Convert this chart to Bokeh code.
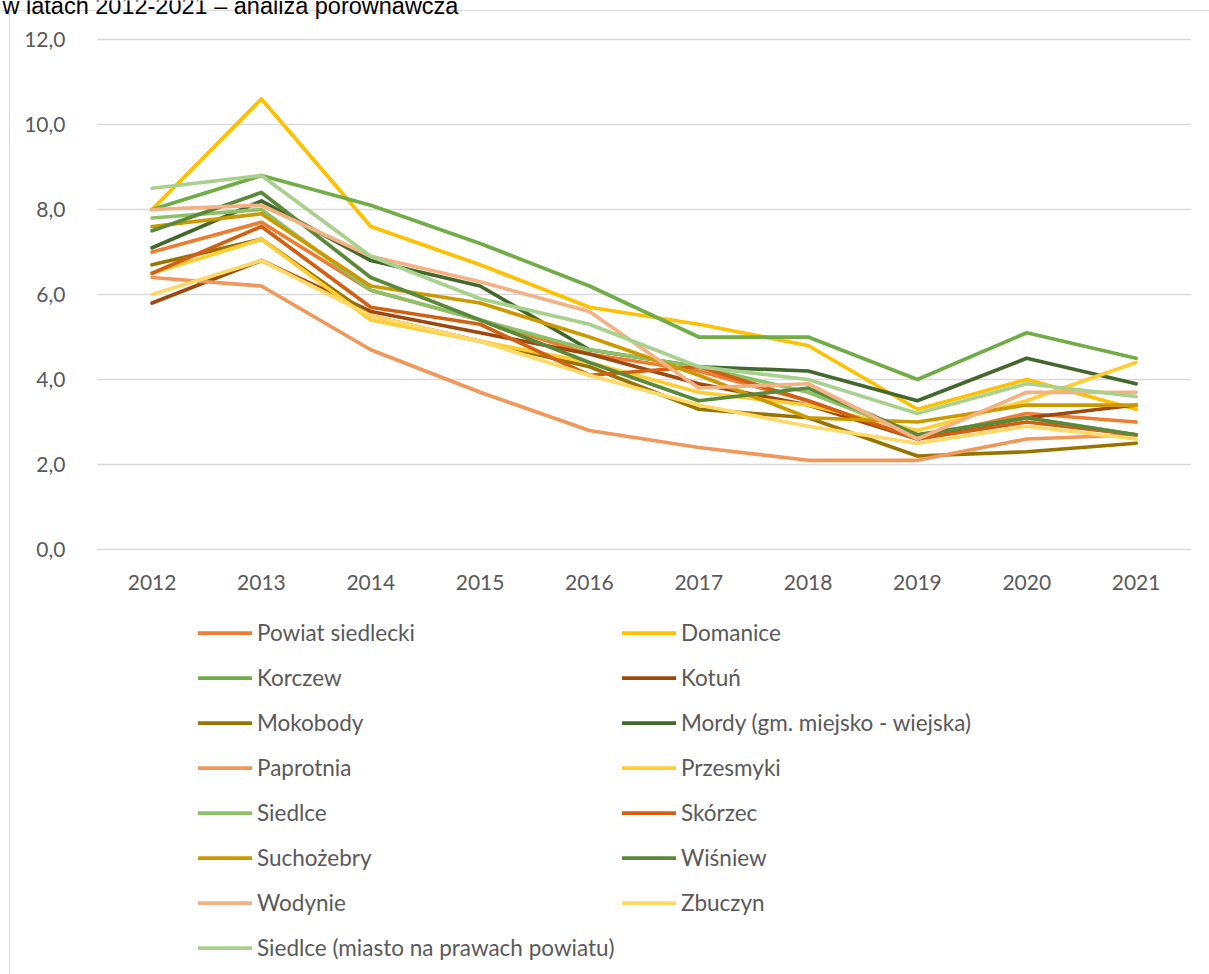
from bokeh.plotting import figure
from bokeh.models import Range1d, FixedTicker, Legend, LegendItem, Label, Span
from bokeh.embed import file_html
from bokeh.resources import INLINE

years = [2012, 2013, 2014, 2015, 2016, 2017, 2018, 2019, 2020, 2021]

powiat_siedlecki = [7.0, 7.7, 6.1, 5.4, 4.6, 4.2, 3.5, 2.6, 3.2, 3.0]
domanice = [8.0, 10.6, 7.6, 6.7, 5.7, 5.3, 4.8, 3.3, 4.0, 3.3]
korczew = [8.0, 8.8, 8.1, 7.2, 6.2, 5.0, 5.0, 4.0, 5.1, 4.5]
kotun = [5.8, 6.8, 5.6, 5.1, 4.6, 3.9, 3.4, 2.6, 3.1, 3.4]
mokobody = [6.7, 7.3, 5.5, 4.9, 4.3, 3.3, 3.1, 2.2, 2.3, 2.5]
mordy = [7.1, 8.2, 6.8, 6.2, 4.7, 4.3, 4.2, 3.5, 4.5, 3.9]
paprotnia = [6.4, 6.2, 4.7, 3.7, 2.8, 2.4, 2.1, 2.1, 2.6, 2.7]
przesmyki = [6.5, 7.3, 5.4, 4.9, 4.4, 3.7, 3.4, 2.8, 3.5, 4.4]
siedlce = [7.8, 8.0, 6.1, 5.4, 4.7, 4.3, 3.7, 2.7, 3.1, 2.7]
skorzec = [6.5, 7.6, 5.7, 5.3, 4.1, 4.3, 3.5, 2.6, 3.0, 2.7]
suchozebry = [7.6, 7.9, 6.2, 5.8, 5.0, 4.1, 3.1, 3.0, 3.4, 3.4]
wisniew = [7.5, 8.4, 6.4, 5.4, 4.4, 3.5, 3.8, 2.7, 3.1, 2.7]
wodynie = [8.0, 8.1, 6.9, 6.3, 5.6, 3.8, 3.9, 2.6, 3.7, 3.7]
zbuczyn = [6.0, 6.8, 5.5, 4.9, 4.1, 3.4, 2.9, 2.5, 2.9, 2.6]
siedlce_miasto = [8.5, 8.8, 6.9, 5.9, 5.3, 4.3, 4.0, 3.2, 3.9, 3.6]

series_names = [
    "Powiat siedlecki", "Domanice", "Korczew", "Kotuń", "Mokobody",
    "Mordy (gm. miejsko - wiejska)", "Paprotnia", "Przesmyki", "Siedlce",
    "Skórzec", "Suchożebry", "Wiśniew", "Wodynie", "Zbuczyn",
    "Siedlce (miasto na prawach powiatu)",
]
series_values = [
    powiat_siedlecki, domanice, korczew, kotun, mokobody, mordy, paprotnia,
    przesmyki, siedlce, skorzec, suchozebry, wisniew, wodynie, zbuczyn,
    siedlce_miasto,
]
series_colors = [
    "#ED7D31", "#FFC000", "#70AD47", "#9E480E", "#997300", "#43682B",
    "#F1975A", "#FFCD33", "#8CC168", "#D26012", "#CC9A00", "#5A8A39",
    "#F4B183", "#FFD966", "#A9D18E",
]

y_ticks = [0, 2, 4, 6, 8, 10, 12]
y_tick_labels = ["0,0", "2,0", "4,0", "6,0", "8,0", "10,0", "12,0"]

title_text = "w latach 2012-2021 – analiza porównawcza"

FONT = "Lato"
TXT = "#595959"

W, H = 1209, 974
PX_PER_YEAR = 109.33
PX_PER_UNIT = 42.5
X_LEFT_PX = 151.6      # pixel position of first year
Y_ZERO_PX = 549.0      # pixel position (from top) of value 0

x_start = years[0] - X_LEFT_PX / PX_PER_YEAR
x_end = x_start + W / PX_PER_YEAR
y_start = -(H - Y_ZERO_PX) / PX_PER_UNIT
y_end = y_start + H / PX_PER_UNIT

p = figure(
    width=W, height=H,
    x_range=Range1d(x_start, x_end), y_range=Range1d(y_start, y_end),
    output_backend="svg", toolbar_location=None,
    min_border=0, outline_line_color=None,
)

p.xgrid.grid_line_color = None
p.ygrid.grid_line_color = None

# horizontal gridlines across the category area
band_left = years[0] - 0.5
band_right = years[-1] + 0.5
p.segment(x0=band_left, x1=band_right, y0=y_ticks, y1=y_ticks,
          line_color="#D9D9D9", line_width=1.3)

p.yaxis.fixed_location = band_left
p.yaxis.ticker = FixedTicker(ticks=y_ticks)
p.yaxis.major_label_overrides = {t: l for t, l in zip(y_ticks, y_tick_labels)}
p.yaxis.axis_line_color = None
p.yaxis.major_tick_line_color = None
p.yaxis.minor_tick_line_color = None
p.yaxis.major_tick_out = 0
p.yaxis.major_tick_in = 0
p.yaxis.major_label_standoff = 32
p.yaxis.major_label_text_font = FONT
p.yaxis.major_label_text_font_size = "21px"
p.yaxis.major_label_text_color = TXT

p.xaxis.fixed_location = 0
p.xaxis.ticker = FixedTicker(ticks=years)
p.xaxis.major_label_overrides = {y: str(y) for y in years}
p.xaxis.axis_line_color = None
p.xaxis.major_tick_line_color = None
p.xaxis.minor_tick_line_color = None
p.xaxis.major_tick_out = 0
p.xaxis.major_tick_in = 0
p.xaxis.major_label_standoff = 25
p.xaxis.major_label_text_font = FONT
p.xaxis.major_label_text_font_size = "21px"
p.xaxis.major_label_text_color = TXT

items = []
for name, vals, color in zip(series_names, series_values, series_colors):
    r = p.line(years, vals, line_color=color, line_width=3.75,
               line_join="round", line_cap="round")
    items.append(LegendItem(label=name, renderers=[r]))

legend = Legend(
    items=items, location=(198, 4), orientation="horizontal", ncols=2,
    glyph_width=54, glyph_height=45, label_height=45, label_width=365,
    label_standoff=5, spacing=0, padding=0, margin=0,
    border_line_color=None, background_fill_alpha=0,
    label_text_font=FONT, label_text_font_size="22.5px", label_text_color=TXT,
)
p.add_layout(legend)

border_left = Span(location=9, dimension="height", location_units="screen",
                   line_color="#D9D9D9", line_width=1)
border_top = Span(location=H - 10, dimension="width", location_units="screen",
                  line_color="#D9D9D9", line_width=1)
p.add_layout(border_left)
p.add_layout(border_top)

title = Label(
    x=2, y=H - 5, x_units="screen", y_units="screen", text=title_text,
    text_font="Liberation Sans", text_font_size="23.5px", text_color="black",
    text_baseline="alphabetic",
)
p.add_layout(title)

open("out.html", "w").write(file_html(p, INLINE))
